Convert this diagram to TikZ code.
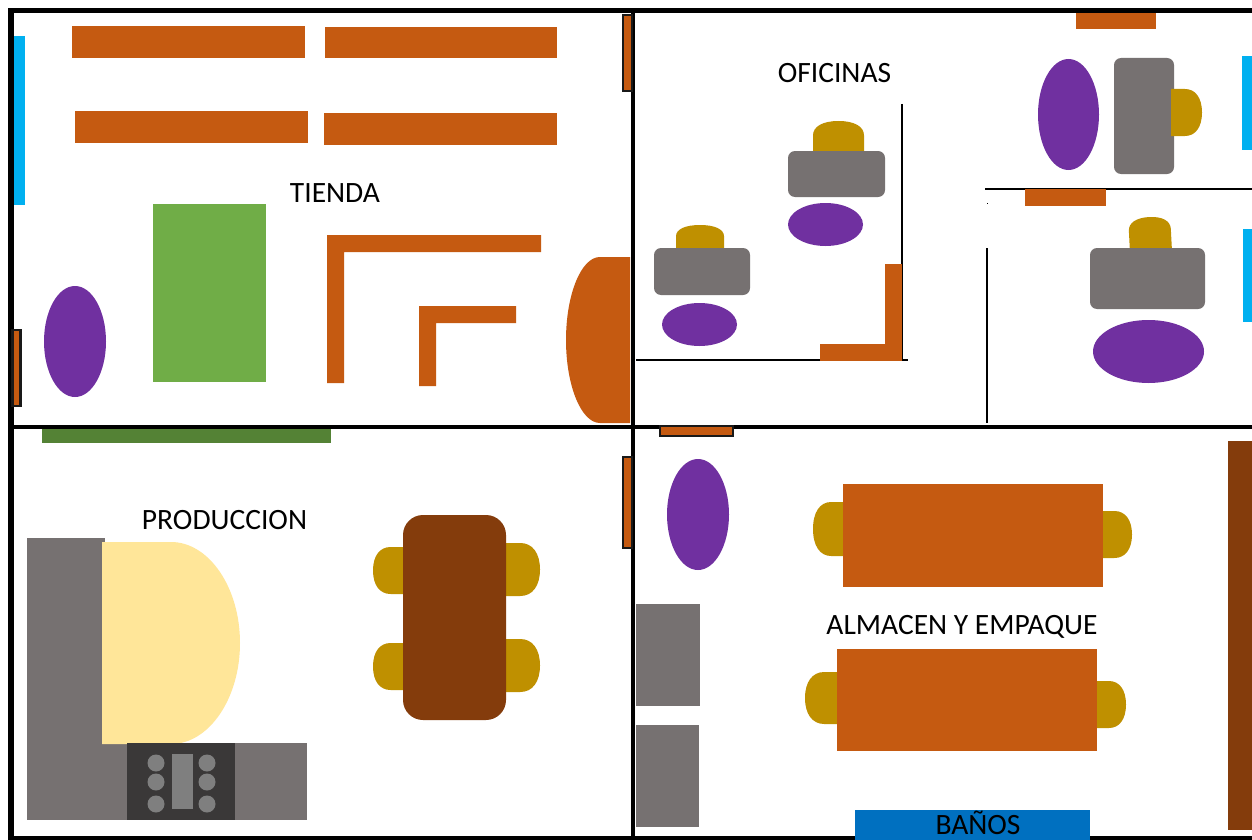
\documentclass[tikz,border=0pt]{standalone}
\usepackage{fontspec}
\setmainfont{Carlito}
\definecolor{naranja}{HTML}{C55A11}
\definecolor{celeste}{HTML}{00B0F0}
\definecolor{morado}{HTML}{7030A0}
\definecolor{verde}{HTML}{70AD47}
\definecolor{verdeosc}{HTML}{548235}
\definecolor{gris}{HTML}{767171}
\definecolor{oro}{HTML}{BF9000}
\definecolor{cafe}{HTML}{843C0C}
\definecolor{crema}{HTML}{FFE699}
\definecolor{carbon}{HTML}{3A3838}
\definecolor{hornilla}{HTML}{7F7F7F}
\definecolor{azul}{HTML}{0070C0}
\tikzset{
  wall/.style={draw=black,line width=4pt},
  outerwall/.style={draw=black,line width=5.5pt},
  thinwall/.style={draw=black,line width=1.4pt},
  door/.style={fill=naranja,draw=black!90,line width=2.3pt},
  roomlabel/.style={inner sep=0pt,anchor=base,font=\fontsize{29.5}{34}\selectfont,text=black},
  desk/.style={fill=gris,rounded corners=7pt},
  tbl/.style={fill=cafe,rounded corners=20pt}
}
\def\kk{.55}
% flat side on the left, round on the right
\newcommand\dR[6]{\pgfmathsetmacro\xm{#2+#6*(#3-#2)}\pgfmathsetmacro\ym{(#4+#5)/2}%
  \fill[#1] (#2,#4) -- (\xm,#4) .. controls ({\xm+\kk*(#3-\xm)},#4) and (#3,{\ym-\kk*(\ym-#4)}) .. (#3,\ym)
  .. controls (#3,{\ym+\kk*(\ym-#4)}) and ({\xm+\kk*(#3-\xm)},#5) .. (\xm,#5) -- (#2,#5) -- cycle;}
% flat side on the right, round on the left
\newcommand\dL[6]{\pgfmathsetmacro\xm{#3-#6*(#3-#2)}\pgfmathsetmacro\ym{(#4+#5)/2}%
  \fill[#1] (#3,#4) -- (\xm,#4) .. controls ({\xm-\kk*(\xm-#2)},#4) and (#2,{\ym-\kk*(\ym-#4)}) .. (#2,\ym)
  .. controls (#2,{\ym+\kk*(\ym-#4)}) and ({\xm-\kk*(\xm-#2)},#5) .. (\xm,#5) -- (#3,#5) -- cycle;}
% flat side at the bottom, round at the top
\newcommand\dU[6]{\pgfmathsetmacro\ym{#5-#6*(#5-#4)}\pgfmathsetmacro\xm{(#2+#3)/2}%
  \fill[#1] (#2,#5) -- (#2,\ym) .. controls (#2,{\ym-\kk*(\ym-#4)}) and ({\xm-\kk*(\xm-#2)},#4) .. (\xm,#4)
  .. controls ({\xm+\kk*(\xm-#2)},#4) and (#3,{\ym-\kk*(\ym-#4)}) .. (#3,\ym) -- (#3,#5) -- cycle;}
\newcommand\seat[4]{\fill[morado] ({(#1+#2)/2},{(#3+#4)/2}) ellipse [x radius={(#2-#1)/2},y radius={(#4-#3)/2}];}
\begin{document}
\begin{tikzpicture}[x=1pt,y=-1pt]
\useasboundingbox (0,0) rectangle (1252,840);
\fill[white] (0,0) rectangle (1252,840);

% TIENDA
\fill[celeste] (13,36) rectangle (25,205);
\foreach \a/\b/\c/\d in {72/26/305/58,325/27/557/58,75/111/308/143,324/113/557/145}
  \fill[naranja] (\a,\b) rectangle (\c,\d);
\fill[verde] (153,204) rectangle (266,382);
\fill[naranja] (327,235) -- (541,235) -- (541,252) -- (344,252) -- (344,383) -- (327,383) -- cycle;
\fill[naranja] (419,306) -- (516,306) -- (516,323) -- (436,323) -- (436,386) -- (419,386) -- cycle;
\dL{naranja}{566}{630}{257}{423}{.47}
\seat{44}{106}{286}{397}
\fill[verdeosc] (42,428) rectangle (331,443);

% OFICINAS
\draw[thinwall] (902,104) -- (902,360);
\draw[thinwall] (636,360) -- (908,360);
\draw[thinwall] (985,189) -- (1252,189);
\draw[thinwall] (987,248) -- (987,423);
\fill[black] (986.5,202.5) rectangle (988,204);
\fill[naranja] (885,264) rectangle (902,345);
\fill[naranja] (820,344) rectangle (902,361);
\def\kk{.62}
\dU{oro}{813}{864}{121}{153}{.55}
\fill[desk] (788,151) rectangle (885,197);
\seat{788}{863}{203}{246}
\dU{oro}{676}{724}{225}{250}{.55}
\fill[desk] (654,248) rectangle (750,295);
\seat{662}{737}{303}{346}
\fill[naranja] (1076,12) rectangle (1156,29);
\seat{1038}{1099}{59}{170}
\fill[desk] (1114,58) rectangle (1174,174);
\dR{oro}{1171}{1202}{89}{136}{.45}
\fill[celeste] (1242,56) rectangle (1252,150);
\fill[naranja] (1025,189) rectangle (1106,206);
\begin{scope}[rotate around={3:(1150,233)}]
  \dU{oro}{1129}{1171}{217}{249}{.6}
\end{scope}
\fill[desk] (1090,248) rectangle (1205,309);
\seat{1093}{1204}{320}{383}
\fill[celeste] (1243,229) rectangle (1252,322);

% PRODUCCION
\fill[gris] (27,538) rectangle (105,820);
\fill[gris] (27,743) rectangle (307,820);
\def\kk{.55}
\dR{crema}{102}{240}{542}{744}{.5}
\fill[carbon] (127,743) rectangle (235,820);
\foreach \cy in {763,782,804}{
  \fill[hornilla] (156,\cy) circle [radius=8.5];
  \fill[hornilla] (207,\cy) circle [radius=8.5];
}
\fill[hornilla] (172,754) rectangle (193,809);
\def\kk{.62}
\dL{oro}{373}{405}{547}{594}{.45}
\dL{oro}{373}{405}{643}{690}{.45}
\dR{oro}{504}{540}{543}{596}{.45}
\dR{oro}{504}{540}{639}{692}{.45}
\fill[tbl] (403,515) rectangle (506,720);

% ALMACEN Y EMPAQUE
\seat{667}{729}{459}{570}
\fill[gris] (636,604) rectangle (700,706);
\fill[gris] (636,725) rectangle (699,827);
\dL{oro}{813}{846}{502}{556}{.45}
\dR{oro}{1100}{1132}{511}{558}{.45}
\dL{oro}{805}{840}{672}{724}{.45}
\dR{oro}{1095}{1126}{681}{728}{.45}
\fill[naranja] (843,484) rectangle (1103,587);
\fill[naranja] (837,649) rectangle (1097,751);
\fill[cafe] (1228,441) rectangle (1252,830);

% WALLS
\draw[outerwall] (1252,10.5) -- (11,10.5) -- (11,838.5) -- (1252,838.5);
\draw[wall,line width=4.5pt] (633,10) -- (633,838);
\draw[wall,line width=3.8pt] (10,426.8) -- (1252,426.8);
\fill[azul] (855,810) rectangle (1090,840);

% DOORS
\draw[door] (12.5,330.2) rectangle (20.5,406);
\draw[door] (623,15) rectangle (632,91);
\draw[door] (623,457) rectangle (632,548);
\draw[door] (660,425.7) rectangle (733,435.7);

% LABELS
\node[roomlabel] (tienda) at (335,202.6) {TIENDA};
\node[roomlabel] (oficinas) at (834.5,82.6) {OFICINAS};
\node[roomlabel] (produccion) at (224.5,529.2) {PRODUCCION};
\node[roomlabel] (almacen) at (962,634.2) {ALMACEN Y EMPAQUE};
\node[roomlabel] (banos) at (978,834.2) {BAÑOS};
\end{tikzpicture}
\end{document}
